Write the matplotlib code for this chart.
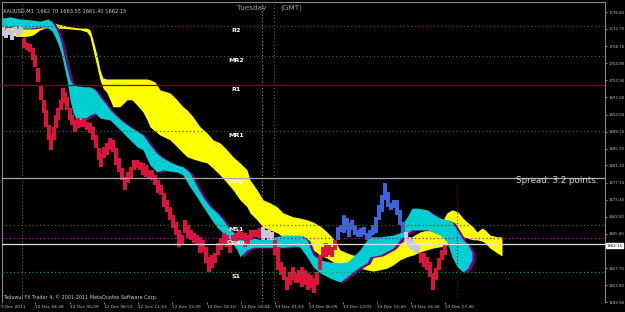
import matplotlib
matplotlib.use("Agg")
import matplotlib.pyplot as plt
import matplotlib.transforms as mtransforms
import numpy as np

# ---------------- data (prices) ----------------
bar_x = [3, 6, 9, 12, 15, 18, 21, 24, 27, 30,
         33, 35, 38, 41, 44, 46, 49, 51, 54, 56,
         58, 61, 63, 65, 67, 70, 72, 75, 78, 81,
         84, 87, 90, 93, 96, 99, 101, 104, 107, 110,
         113, 116, 119, 122, 125, 128, 131, 134, 137, 140,
         143, 146, 149, 152, 155, 158, 161, 164, 167, 170,
         173, 176, 179, 182, 185, 188, 191, 194, 197, 200,
         203, 206, 209, 212, 215, 218, 221, 224, 227, 230,
         233, 236, 239, 242, 245, 248, 251, 254, 257, 260,
         263, 266, 269, 272, 275, 278, 281, 284, 287, 290,
         293, 296, 299, 302, 305, 308, 311, 314, 317, 320,
         323, 326, 329, 332, 335, 338, 341, 344, 347, 349,
         352, 355, 358, 361, 364, 367, 370, 373, 376, 379,
         382, 385, 388, 391, 394, 397, 400, 403, 406, 409,
         412, 415, 418, 421, 424, 427, 430, 433, 436, 439,
         442, 445]
bar_high = [1713.2, 1712.5, 1712.9, 1712.5, 1713.2, 1712.7, 1713.4, 1710.6, 1709.5, 1709.3,
            1708.3, 1706.7, 1703.7, 1699.8, 1696.4, 1694.1, 1690.6, 1688.3, 1690.2, 1692.9,
            1694.5, 1696.4, 1699.1, 1698.2, 1697.1, 1694.5, 1692.9, 1691.8, 1692.2, 1691.8,
            1692.2, 1691.3, 1691.1, 1690.2, 1688.3, 1685.3, 1684.2, 1685.6, 1686.5, 1687.6,
            1687.2, 1685.3, 1683.0, 1680.7, 1678.7, 1679.8, 1681.0, 1682.6, 1682.6, 1682.1,
            1681.9, 1681.4, 1680.3, 1680.3, 1679.1, 1678.0, 1676.8, 1675.0, 1673.4, 1671.7,
            1669.9, 1668.3, 1666.5, 1665.3, 1668.8, 1667.6, 1666.5, 1665.8, 1665.3, 1664.9,
            1664.2, 1662.5, 1660.3, 1660.7, 1661.2, 1663.5, 1664.6, 1665.8, 1665.3, 1664.2,
            1665.3, 1665.8, 1666.5, 1666.0, 1665.8, 1665.3, 1666.5, 1666.5, 1666.5, 1666.9,
            1667.1, 1666.5, 1666.5, 1666.0, 1664.2, 1662.5, 1659.1, 1658.0, 1655.7, 1656.8,
            1658.0, 1656.6, 1657.3, 1658.0, 1657.3, 1656.6, 1656.1, 1655.4, 1656.8, 1660.7,
            1662.5, 1663.5, 1663.0, 1662.5, 1664.2, 1667.1, 1667.6, 1669.9, 1669.2, 1668.1,
            1668.8, 1667.6, 1666.5, 1666.9, 1667.1, 1665.8, 1666.5, 1667.6, 1669.5, 1672.2,
            1674.5, 1677.3, 1675.2, 1672.7, 1673.4, 1673.4, 1671.1, 1668.3, 1666.0, 1664.9,
            1664.6, 1663.5, 1663.0, 1661.2, 1661.2, 1660.3, 1659.1, 1656.6, 1657.7, 1660.0,
            1661.9, 1663.0]
bar_low = [1711.1, 1710.6, 1711.3, 1710.2, 1711.8, 1710.9, 1711.5, 1708.3, 1707.9, 1707.4,
           1705.6, 1703.9, 1700.5, 1696.4, 1693.4, 1690.2, 1687.2, 1684.9, 1687.2, 1689.9,
           1691.8, 1694.1, 1696.4, 1695.7, 1694.1, 1691.8, 1690.6, 1689.0, 1689.9, 1690.2,
           1690.2, 1689.5, 1688.8, 1687.2, 1685.3, 1682.6, 1681.0, 1683.0, 1683.7, 1684.9,
           1684.4, 1681.4, 1679.8, 1678.0, 1675.7, 1677.3, 1678.4, 1680.3, 1680.7, 1680.3,
           1679.1, 1678.7, 1678.4, 1678.0, 1676.8, 1675.0, 1674.5, 1671.8, 1670.6, 1668.8,
           1666.9, 1665.3, 1662.5, 1663.0, 1665.8, 1664.6, 1664.2, 1663.5, 1663.0, 1661.2,
           1661.4, 1658.9, 1656.8, 1657.7, 1658.9, 1660.7, 1661.9, 1663.0, 1662.5, 1661.2,
           1663.0, 1663.5, 1664.2, 1664.2, 1662.5, 1663.0, 1664.2, 1664.9, 1664.9, 1664.6,
           1664.2, 1664.6, 1664.2, 1664.2, 1660.7, 1657.3, 1656.1, 1655.0, 1652.7, 1653.8,
           1655.0, 1654.3, 1654.3, 1653.4, 1653.8, 1652.7, 1653.1, 1652.0, 1653.8, 1657.3,
           1660.3, 1660.3, 1660.7, 1660.3, 1661.9, 1664.2, 1666.0, 1665.8, 1666.5, 1664.9,
           1666.5, 1665.3, 1664.9, 1664.9, 1665.3, 1664.2, 1664.6, 1665.3, 1665.8, 1668.8,
           1670.6, 1673.4, 1671.7, 1671.1, 1671.5, 1669.9, 1667.6, 1665.8, 1663.7, 1662.5,
           1661.9, 1661.4, 1661.2, 1658.9, 1658.0, 1657.3, 1655.7, 1652.7, 1655.0, 1657.3,
           1659.6, 1660.7]
# colour runs of the bars: run starts at bar x
run_start = [3, 24, 263, 275, 338, 406, 421]
run_color = ["#c8c8d8", "#dc143c", "#c8c8d8", "#dc143c", "#3c64dc", "#c8c8d8", "#dc143c"]

cyan_x = [2, 10, 20, 30, 40, 48, 52, 55, 58, 61,
          64, 67, 70, 73, 78, 84, 90, 95, 100, 105,
          110, 117, 123, 130, 137, 143, 150, 157, 163, 170,
          177, 183, 190, 197, 203, 210, 217, 223, 230, 237,
          240, 247, 253, 263, 275, 285, 295, 300, 307, 313,
          320, 330, 340, 347, 353, 360, 367, 370, 380, 393,
          400, 403, 407, 412, 417, 427, 433, 440, 447, 452,
          457, 463, 468, 472]
cyan_top = [1715.2, 1715.5, 1715.0, 1714.8, 1714.5, 1715.0, 1714.3, 1713.2, 1711.8, 1709.7,
            1706.7, 1703.7, 1701.0, 1699.8, 1699.6, 1699.4, 1699.4, 1698.7, 1697.1, 1695.7,
            1694.1, 1692.5, 1691.3, 1690.2, 1689.2, 1688.3, 1686.0, 1684.0, 1683.0, 1682.1,
            1681.4, 1681.0, 1679.6, 1676.4, 1674.0, 1671.8, 1670.4, 1668.8, 1666.5, 1665.3,
            1665.1, 1664.9, 1664.6, 1664.2, 1664.9, 1665.3, 1665.3, 1665.3, 1664.2, 1660.7,
            1659.6, 1659.1, 1658.9, 1659.1, 1660.3, 1661.9, 1664.2, 1664.9, 1664.9, 1665.3,
            1665.8, 1668.1, 1669.4, 1671.5, 1671.5, 1671.1, 1670.1, 1669.2, 1668.8, 1668.3,
            1666.5, 1664.2, 1663.0, 1661.4]
cyan_bot = [1713.2, 1713.2, 1712.9, 1712.9, 1713.2, 1712.9, 1712.2, 1710.9, 1709.2, 1707.2,
            1704.2, 1701.0, 1696.4, 1693.4, 1691.3, 1692.0, 1692.9, 1693.4, 1692.2, 1692.0,
            1691.8, 1690.2, 1688.8, 1687.2, 1685.6, 1684.9, 1681.4, 1679.8, 1680.3, 1680.0,
            1679.8, 1679.1, 1676.4, 1674.0, 1671.8, 1669.4, 1667.1, 1665.8, 1664.2, 1661.9,
            1660.3, 1661.9, 1662.5, 1662.5, 1662.5, 1662.5, 1662.8, 1662.5, 1660.3, 1658.0,
            1656.6, 1655.4, 1654.5, 1655.7, 1656.8, 1658.0, 1658.9, 1660.3, 1660.7, 1662.3,
            1664.2, 1664.9, 1665.8, 1666.5, 1666.5, 1666.5, 1666.0, 1665.3, 1663.7, 1660.3,
            1658.0, 1656.8, 1657.7, 1659.6]

yel_x = [5, 15, 25, 33, 40, 50, 58, 70, 80, 87,
         90, 93, 97, 100, 103, 107, 110, 113, 120, 127,
         132, 137, 143, 147, 150, 155, 160, 170, 177, 183,
         187, 193, 200, 207, 213, 220, 227, 233, 240, 247,
         250, 257, 263, 270, 277, 283, 293, 300, 307, 313,
         320, 327, 333, 340, 347, 353, 360, 367, 373, 380,
         387, 393, 400, 407, 413, 420, 427, 433, 440, 447,
         452, 458, 463, 467, 473, 477, 482, 485, 490, 497,
         502]
yel_top = [1713.2, 1713.2, 1713.2, 1712.9, 1713.4, 1714.3, 1713.8, 1713.2, 1712.9, 1712.9,
           1712.5, 1710.2, 1706.7, 1703.3, 1701.4, 1701.2, 1701.2, 1701.2, 1701.2, 1701.2,
           1701.2, 1701.2, 1701.2, 1701.2, 1701.0, 1700.5, 1698.7, 1698.0, 1696.4, 1694.8,
           1694.1, 1692.5, 1690.2, 1688.8, 1687.2, 1686.5, 1684.9, 1683.3, 1681.9, 1680.3,
           1678.0, 1675.7, 1673.4, 1672.7, 1671.8, 1670.4, 1669.5, 1669.2, 1668.8, 1668.3,
           1667.4, 1666.0, 1664.6, 1661.9, 1661.2, 1660.7, 1660.7, 1660.3, 1660.3, 1660.7,
           1661.4, 1662.3, 1663.5, 1664.2, 1665.1, 1666.0, 1666.5, 1666.9, 1667.6, 1670.4,
           1671.1, 1670.6, 1669.2, 1668.3, 1667.2, 1666.0, 1666.9, 1666.5, 1665.3, 1664.9,
           1664.9]
yel_bot = [1711.8, 1711.1, 1710.9, 1711.3, 1712.5, 1713.2, 1712.9, 1712.7, 1712.5, 1712.0,
           1710.9, 1707.9, 1704.0, 1701.0, 1699.1, 1698.0, 1696.4, 1694.8, 1694.8, 1696.4,
           1696.4, 1695.2, 1693.6, 1691.8, 1690.2, 1689.2, 1688.3, 1687.2, 1685.6, 1684.2,
           1683.3, 1682.8, 1682.3, 1681.9, 1680.7, 1679.1, 1677.3, 1675.7, 1673.4, 1671.8,
           1670.4, 1668.8, 1667.1, 1666.5, 1665.8, 1664.9, 1664.2, 1663.5, 1663.0, 1661.9,
           1660.7, 1660.0, 1659.1, 1658.4, 1658.0, 1657.7, 1657.7, 1657.3, 1657.0, 1657.3,
           1657.7, 1658.4, 1659.6, 1660.3, 1660.7, 1661.4, 1661.9, 1662.3, 1662.6, 1663.0,
           1664.2, 1664.9, 1664.9, 1664.6, 1664.2, 1664.2, 1663.9, 1663.5, 1662.3, 1661.2,
           1660.5]

level_names = ["R2", "MR2", "R1", "MR1", "FPV", "MS1", "Open", "S1"]
level_prices = [1713.4, 1706.5, 1699.8, 1689.2, 1678.4, 1667.6, 1664.6, 1656.8]
level_colors = ["#9a1450", "#5c5c00", "#7a1010", "#5c5c00", "#a8a8a8", "#5c5c00", "#c000c0", "#00a040"]
level_styles = [":", ":", "-", ":", "-", ":", ":", ":"]
bid_price = 1663.2
bid_label = "1662.15"

ytick_vals = [1716.60, 1712.70, 1708.70, 1704.80, 1700.90, 1697.00, 1693.00, 1689.10,
              1685.20, 1681.30, 1677.30, 1673.40, 1669.50, 1665.60, 1657.70, 1653.80, 1649.90]
xtick_pos = [1, 35, 70, 104, 138, 172, 207, 241, 275, 309, 343, 377, 411, 445]
xtick_labels = ["9 Dec 2011", "12 Dec 04:28", "12 Dec 05:09", "12 Dec 08:52", "12 Dec 11:53",
                "12 Dec 15:00", "12 Dec 16:10", "12 Dec 18:44", "13 Dec 01:53", "13 Dec 06:05",
                "13 Dec 12:01", "13 Dec 15:43", "13 Dec 16:26", "13 Dec 17:40"]

title_text = "XAUUSD,M1  1662.70 1663.55 1661.40 1662.15"
footer_text = "Tadawul FX Trader 4, \u00a9 2001-2011 MetaQuotes Software Corp."
spread_text = "Spread: 3.2 points."

# ---------------- drawing ----------------
W, H = 625, 312
fig = plt.figure(figsize=(W / 100, H / 100), dpi=100, facecolor="black")
ax = fig.add_axes([2 / W, 10 / H, 603 / W, 300 / H], facecolor="black")
ax.set_xlim(2, 605)
ax.set_ylim(1649.9, 1718.9)

# clouds
ax.fill_between(yel_x, yel_bot, yel_top, color="#ffff00", lw=0, zorder=2)
ax.fill_between(np.array(cyan_x) + 3, np.array(cyan_bot) - 0.2, np.array(cyan_top) - 0.2,
                color="#800080", lw=0, zorder=3)
ax.fill_between(cyan_x, cyan_bot, cyan_top, color="#00ced1", lw=0, zorder=4)

# bars
bx = np.array(bar_x)
colors = []
for x in bx:
    idx = max(i for i, s in enumerate(run_start) if x >= s)
    colors.append(run_color[idx])
hi = np.array(bar_high)
lo = np.array(bar_low)
ax.bar(bx, hi - lo, bottom=lo, width=3.1, color=colors, lw=0, zorder=5)

# vertical separators
ax.axvline(22, color="#6b6b00", ls=(0, (1, 2)), lw=0.8, zorder=1)
ax.axvline(262, color="#9a9a9a", ls=(0, (1, 2)), lw=0.8, zorder=1)
ax.axvline(274, color="#6b6b00", ls=(0, (1, 2)), lw=0.8, zorder=1)
ax.vlines(457, 1651.1, 1676.8, color="#8b1010", ls=(0, (1, 2)), lw=0.8, zorder=6)

# levels
for name, p, c, s in zip(level_names, level_prices, level_colors, level_styles):
    ls = (0, (1, 2)) if s == ":" else "-"
    ax.axhline(p, color=c, ls=ls, lw=0.9, zorder=6)
    ax.text(236, p - 1.0, name, color="white", fontsize=4.6, fontweight="bold",
            ha="center", va="center", zorder=7)
ax.axhline(bid_price, color="#e0e0e0", lw=0.9, zorder=6)
ax.axhline(1649.95, color="#6b6b00", ls=(0, (1, 2)), lw=0.8, zorder=6)

# texts
ax.text(3, 1716.8, title_text, color="#d0d0d0", fontsize=3.7, ha="left", va="center", zorder=8)
ax.text(252, 1717.6, "Tuesday", color="#a0a0a0", fontsize=5.2, ha="center", va="center", zorder=8)
ax.text(291, 1717.6, "(GMT)", color="#a0a0a0", fontsize=5.2, ha="center", va="center", zorder=8)
ax.text(598, 1677.8, spread_text, color="#d8d8d8", fontsize=6.3, ha="right", va="center", zorder=8)
ax.text(3, 1651.1, footer_text, color="#d0d0d0", fontsize=3.5, ha="left", va="center", zorder=8)

# spines
for sp in ax.spines.values():
    sp.set_color("#8a8a8a")
    sp.set_linewidth(0.8)
ax.spines["bottom"].set_visible(False)

# y axis on the right
ax.yaxis.tick_right()
ax.set_yticks(ytick_vals)
ax.set_yticklabels([f"{v:.2f}" for v in ytick_vals])
ax.tick_params(axis="y", colors="#c0c0c0", labelsize=2.8, length=1.5, width=0.5, pad=0.8)

# x axis
ax.set_xticks(xtick_pos[1:])
ax.set_xticklabels([])
ax.tick_params(axis="x", colors="#c0c0c0", length=1.5, width=0.5, direction="out")
trans = mtransforms.blended_transform_factory(ax.transData, ax.transAxes)
for xp, lab in zip(xtick_pos, xtick_labels):
    ax.text(xp, -0.017, lab, transform=trans, color="#c8c8c8", fontsize=3.1,
            ha="left", va="center", clip_on=False)

# bid label box
ax.text(1.003, 1662.8, bid_label, transform=mtransforms.blended_transform_factory(ax.transAxes, ax.transData),
        color="black", fontsize=2.8, ha="left", va="center", clip_on=False,
        bbox=dict(boxstyle="square,pad=0.12", fc="white", ec="white"))

fig.savefig("out.png", dpi=100, facecolor="black")
